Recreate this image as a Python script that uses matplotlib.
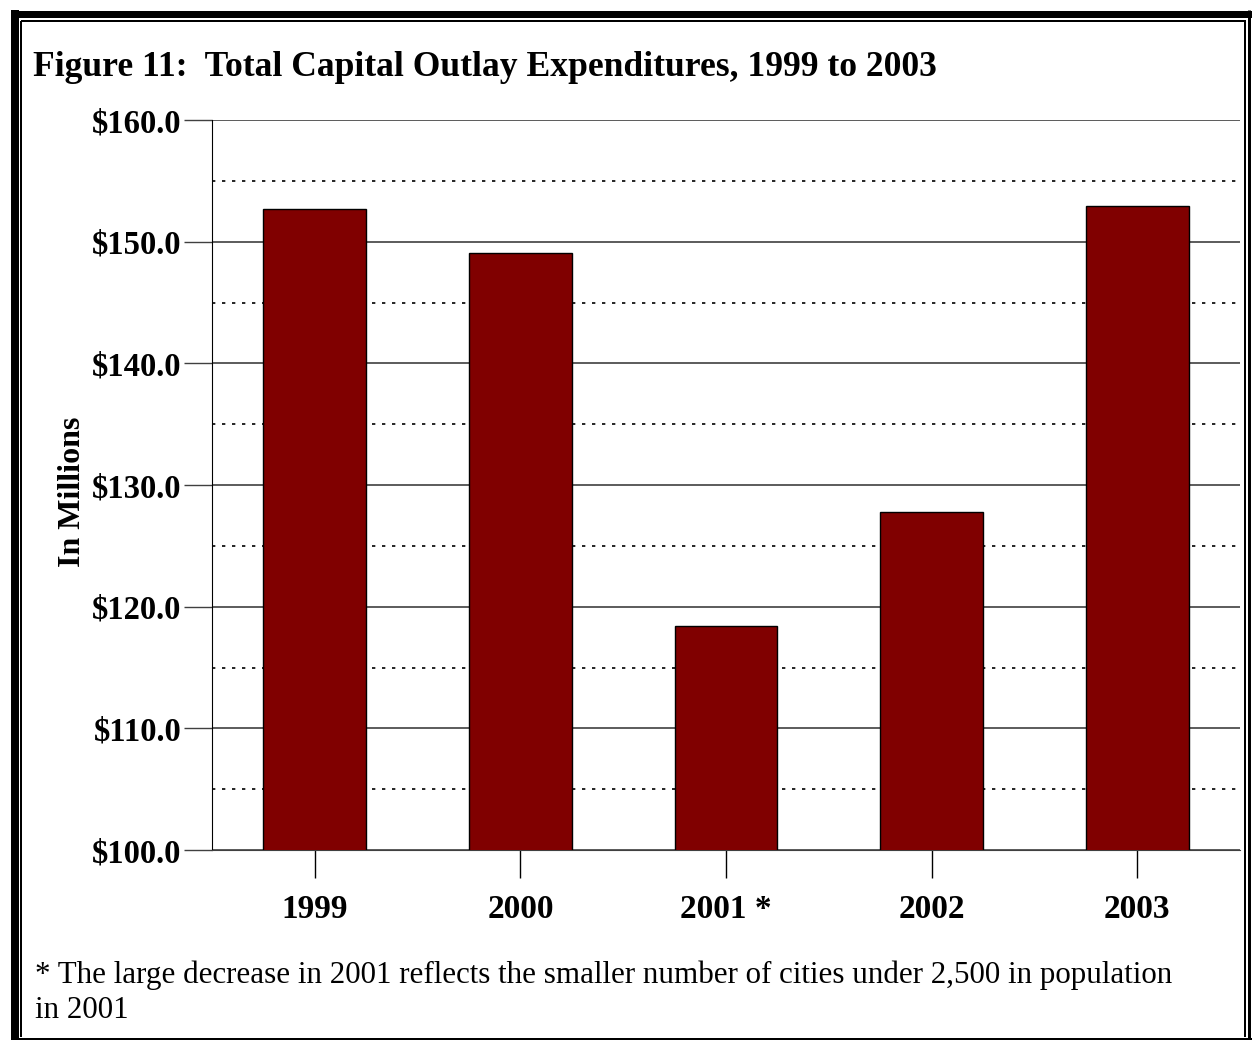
import matplotlib
matplotlib.use("Agg")
import matplotlib.pyplot as plt
from matplotlib.lines import Line2D
import numpy as np

years = ["1999", "2000", "2001 *", "2002", "2003"]
values = [152.7, 149.1, 118.4, 127.8, 152.9]
ytick_labels = ["$100.0", "$110.0", "$120.0", "$130.0", "$140.0", "$150.0", "$160.0"]
ytick_values = [100, 110, 120, 130, 140, 150, 160]

W, H = 1252, 1040
plt.rcParams['font.family'] = ['Liberation Serif', 'DejaVu Serif']
fig = plt.figure(figsize=(W / 100, H / 100), dpi=100)

def fx(px):
    return px / W

def fy(py):
    return 1 - py / H

ax = fig.add_axes([fx(212), fy(850), fx(1240) - fx(212), fy(120) - fy(850)])
x = np.arange(len(years))
ax.bar(x, values, width=0.5, color="#800000", edgecolor="black", linewidth=1, zorder=3)
ax.set_xlim(-0.5, len(years) - 0.5)
ax.set_ylim(100, 160)
ax.set_yticks(ytick_values)
ax.set_yticklabels(ytick_labels, fontsize=23.5, fontweight="bold")
ax.set_yticks(np.arange(105, 160, 10), minor=True)
ax.set_xticks(x)
ax.set_xticklabels(years, fontsize=24, fontweight="bold")
ax.tick_params(axis="y", which="major", length=20, width=1, color="#404040", pad=2)
ax.tick_params(axis="y", which="minor", length=0)
ax.tick_params(axis="x", which="major", length=20, width=1, pad=12)
ax.grid(axis="y", which="major", color="#404040", linewidth=1.2, linestyle="-", zorder=0)
ax.grid(axis="y", which="minor", color="black", linewidth=1.2, linestyle=(0, (2, 4)), zorder=0)
for s in ["top", "right"]:
    ax.spines[s].set_visible(False)
ax.spines["bottom"].set_color("#404040")
ax.spines["left"].set_color("black")

fig.text(fx(72), fy(492), "In Millions", fontsize=23, fontweight="bold",
         rotation=90, va="center", ha="center")
fig.text(fx(33), fy(67), "Figure 11:  Total Capital Outlay Expenditures, 1999 to 2003",
         fontsize=25.6, fontweight="bold", va="center", ha="left")
fig.text(fx(35), fy(975), "* The large decrease in 2001 reflects the smaller number of cities under 2,500 in population",
         fontsize=22.3, va="center", ha="left")
fig.text(fx(35), fy(1010), "in 2001", fontsize=22.3, va="center", ha="left")

def line(x0, y0, x1, y1, lw):
    fig.add_artist(Line2D([fx(x0), fx(x1)], [fy(y0), fy(y1)], color="black",
                          linewidth=lw * 0.72, solid_capstyle="butt"))

# outer frame
line(11, 13.5, 1252, 13.5, 7)
line(15, 10, 15, 1040, 8)
line(1249, 10, 1249, 1040, 3)
line(11, 1038.5, 1252, 1038.5, 3)
# inner frame
line(21, 21, 1246, 21, 2)
line(21, 21, 21, 1037, 2)
line(1245, 21, 1245, 1037, 2)

fig.savefig("out.png", dpi=100)
